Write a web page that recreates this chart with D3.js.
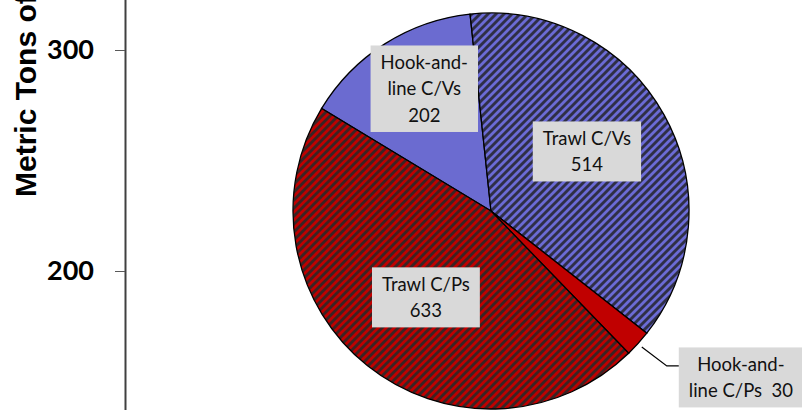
<!DOCTYPE html>
<html>
<head>
<meta charset="utf-8">
<script src="https://cdn.jsdelivr.net/npm/d3@7"></script>
<style>
  body { margin: 0; background: #fff; }
  svg { display: block; }
</style>
</head>
<body>
<script>
// data
const categories = ['Hook-and-line C/Vs', 'Trawl C/Vs', 'Hook-and-line C/Ps', 'Trawl C/Ps']
const values = [202, 514, 30, 633]
const labelText = [['Hook-and-', 'line C/Vs'], ['Trawl C/Vs'], ['Hook-and-', 'line C/Ps'], ['Trawl C/Ps']]
const valueOnOwnLine = [true, true, false, true]
const yTicks = [200, 300]
const yTitle = 'Metric Tons of'

const width = 802
const height = 410
const cx = 491
const cy = 211
const radius = 198
const startDeg = -58.8

const fills = ['#6b6bd0', 'url(#hatchBlue)', '#c00000', 'url(#hatchRed)']
// nudges for the inside labels, from a label ring at 0.6 * radius
const labelNudge = [[-3, -22], [-8, -2], null, [9, -6.5]]
const lineH = 26.5

const svg = d3.select('body')
  .append('svg')
  .attr('width', width)
  .attr('height', height)

const defs = svg.append('defs')
function hatch(id, base, dark) {
  const p = defs.append('pattern')
    .attr('id', id)
    .attr('patternUnits', 'userSpaceOnUse')
    .attr('width', 8)
    .attr('height', 8)
  p.append('rect').attr('width', 8).attr('height', 8).attr('fill', base)
  p.append('path')
    .attr('d', 'M-2,2 L2,-2 M0,8 L8,0 M6,10 L10,6')
    .attr('stroke', dark)
    .attr('stroke-width', 2.9)
}
hatch('hatchBlue', '#6b6bd6', '#2f2f47')
hatch('hatchRed', '#c00000', '#3a2424')

// left axis left over from the bar chart behind
const y = d3.scaleLinear().domain([200, 300]).range([271, 50])
const yFull = y.copy().domain([100, 400]).range([y(100), y(400)])

const axis = svg.append('g')
  .attr('transform', 'translate(125,0)')
  .call(d3.axisLeft(yFull).tickValues(yTicks).tickSize(10).tickSizeOuter(0).tickPadding(21))

axis.select('.domain').attr('stroke', '#404040').attr('stroke-width', 2)
axis.selectAll('.tick line').attr('stroke', '#595959')
axis.selectAll('.tick text')
  .attr('font-family', 'Lato, sans-serif')
  .attr('font-weight', 'bold')
  .attr('font-size', 27)
  .attr('fill', '#000')

svg.append('text')
  .attr('transform', 'rotate(-90)')
  .attr('x', -197)
  .attr('y', 36)
  .attr('font-family', '"Liberation Sans", Arial, sans-serif')
  .attr('font-weight', 'bold')
  .attr('font-size', 30)
  .text(yTitle)

// pie
const pie = d3.pie()
  .sort(null)
  .startAngle(startDeg * Math.PI / 180)
  .endAngle(startDeg * Math.PI / 180 + 2 * Math.PI)

const arcs = pie(values)
const arc = d3.arc().innerRadius(0).outerRadius(radius)

const chart = svg.append('g').attr('transform', `translate(${cx}, ${cy})`)

chart.selectAll('path.slice')
  .data(arcs)
  .enter()
    .append('path')
    .attr('class', 'slice')
    .attr('d', arc)
    .attr('fill', (d, i) => fills[i])
    .attr('stroke', '#000')
    .attr('stroke-width', 1.3)

function polar(a, r) {
  return [Math.sin(a) * r, -Math.cos(a) * r]
}

function drawLabel(g, lines) {
  const txt = g.append('text')
    .attr('font-family', 'Lato, sans-serif')
    .attr('font-size', 18.5)
    .attr('fill', '#111')
    .attr('text-anchor', 'middle')
    .style('white-space', 'pre')
  lines.forEach((l, k) => {
    txt.append('tspan')
      .attr('x', 0)
      .attr('y', (k - (lines.length - 1) / 2) * lineH)
      .attr('dy', '0.35em')
      .text(l)
  })
  const w = d3.max(txt.selectAll('tspan').nodes(), n => n.getComputedTextLength())
  const bw = w + 20
  const bh = lines.length * lineH + 7
  g.insert('rect', 'text')
    .attr('x', -bw / 2)
    .attr('y', -bh / 2)
    .attr('width', bw)
    .attr('height', bh)
    .attr('fill', '#d9d9d9')
  return [bw, bh]
}

arcs.forEach((d, i) => {
  const lines = labelText[i].slice()
  if (valueOnOwnLine[i]) lines.push(String(values[i]))
  else lines[lines.length - 1] += '  ' + values[i]

  const mid = (d.startAngle + d.endAngle) / 2
  const g = chart.append('g')

  if (labelNudge[i]) {
    const p = polar(mid, radius * 0.6)
    g.attr('transform', `translate(${p[0] + labelNudge[i][0]}, ${p[1] + labelNudge[i][1]})`)
    drawLabel(g, lines)
  } else {
    // outside label with leader line
    const s = polar(mid, radius + 5)
    const e = [s[0] + 25, s[1] + 19]
    const left = e[0] + 12
    const size = drawLabel(g, lines)
    g.attr('transform', `translate(${left + size[0] / 2}, ${e[1] + 11.5})`)
    chart.append('path')
      .attr('d', d3.line()([s, e, [left, e[1]]]))
      .attr('fill', 'none')
      .attr('stroke', '#000')
      .attr('stroke-width', 1.2)
  }
})
</script>
</body>
</html>
